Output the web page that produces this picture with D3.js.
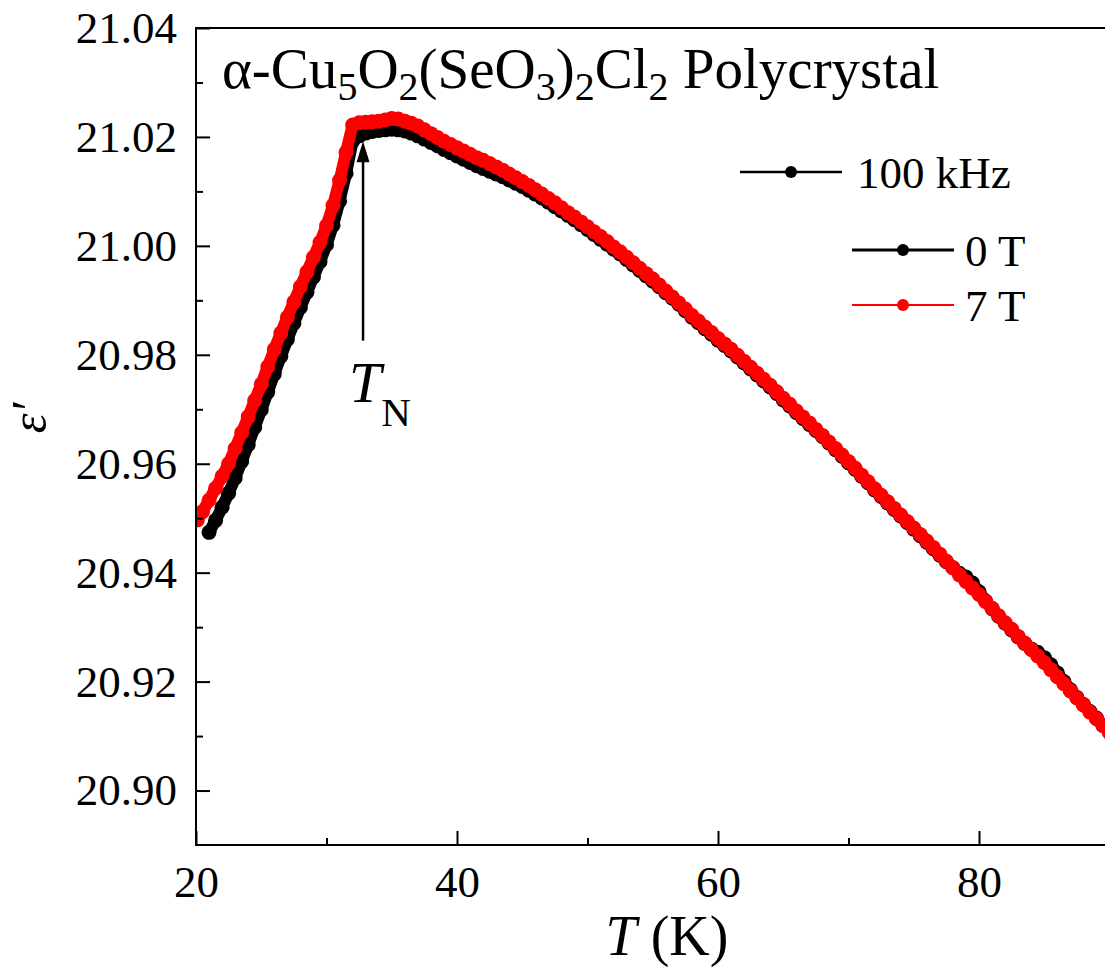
<!DOCTYPE html>
<html>
<head>
<meta charset="utf-8">
<script src="https://cdn.jsdelivr.net/npm/d3@7"></script>
<style>
  body { margin: 0; background: #fff; }
  svg { display: block; }
  .axis path { display: none; }
  .axis line { stroke: #000; stroke-width: 2; }
</style>
</head>
<body>
<svg width="1105" height="971"></svg>
<script>
const width = 1105
const height = 971
const serif = "Liberation Serif, Times New Roman, serif"

// temperature (K) and permittivity for 0 T
const temp0T = [21, 21.5, 22, 22.5, 23, 23.5, 24, 24.5, 25, 25.5, 26, 26.5, 27, 27.5, 28, 28.5, 29, 29.5, 30, 30.5,
  31, 31.5, 32, 32.5, 33, 33.5, 34, 34.5, 35, 35.5, 36, 36.5, 37, 37.5, 38, 38.5, 39, 39.5, 40, 40.5,
  41, 41.5, 42, 42.5, 43, 43.5, 44, 44.5, 45, 45.5, 46, 46.5, 47, 47.5, 48, 48.5, 49, 49.5, 50, 50.5,
  51, 51.5, 52, 52.5, 53, 53.5, 54, 54.5, 55, 55.5, 56, 56.5, 57, 57.5, 58, 58.5, 59, 59.5, 60, 60.5,
  61, 61.5, 62, 62.5, 63, 63.5, 64, 64.5, 65, 65.5, 66, 66.5, 67, 67.5, 68, 68.5, 69, 69.5, 70, 70.5,
  71, 71.5, 72, 72.5, 73, 73.5, 74, 74.5, 75, 75.5, 76, 76.5, 77, 77.5, 78, 78.5, 79, 79.5, 80, 80.5,
  81, 81.5, 82, 82.5, 83, 83.5, 84, 84.5, 85, 85.5, 86, 86.5, 87, 87.5, 88, 88.5, 89, 89.5, 90]
const eps0T = [20.9474, 20.9496, 20.9520, 20.9546, 20.9574, 20.9604, 20.9635, 20.9667, 20.9699, 20.9732,
  20.9765, 20.9797, 20.9828, 20.9858, 20.9887, 20.9915, 20.9943, 20.9971, 21.0002, 21.0038,
  21.0082, 21.0133, 21.0192, 21.0202, 21.0207, 21.0210, 21.0212, 21.0213, 21.0214, 21.0213,
  21.0211, 21.0207, 21.0202, 21.0196, 21.0190, 21.0184, 21.0177, 21.0171, 21.0165, 21.0159,
  21.0153, 21.0147, 21.0142, 21.0137, 21.0132, 21.0127, 21.0121, 21.0115, 21.0109, 21.0102,
  21.0095, 21.0088, 21.0080, 21.0072, 21.0064, 21.0056, 21.0048, 21.0039, 21.0030, 21.0021,
  21.0012, 21.0003, 20.9994, 20.9985, 20.9975, 20.9965, 20.9955, 20.9945, 20.9935, 20.9925,
  20.9914, 20.9904, 20.9893, 20.9881, 20.9869, 20.9859, 20.9848, 20.9838, 20.9827, 20.9817,
  20.9807, 20.9796, 20.9785, 20.9774, 20.9763, 20.9752, 20.9741, 20.9729, 20.9717, 20.9706,
  20.9694, 20.9683, 20.9672, 20.9661, 20.9650, 20.9638, 20.9626, 20.9614, 20.9602, 20.9590,
  20.9577, 20.9565, 20.9552, 20.9540, 20.9528, 20.9516, 20.9504, 20.9492, 20.9480, 20.9468,
  20.9456, 20.9444, 20.9432, 20.9420, 20.9409, 20.9399, 20.9392, 20.9381, 20.9365, 20.9348,
  20.9334, 20.9320, 20.9307, 20.9295, 20.9282, 20.9270, 20.9260, 20.9254, 20.9244, 20.9231,
  20.9216, 20.9200, 20.9185, 20.9171, 20.9158, 20.9145, 20.9133, 20.9120, 20.9107]

// temperature (K) and permittivity for 7 T
const temp7T = [20.1, 20.5, 21, 21.5, 22, 22.5, 23, 23.5, 24, 24.5, 25, 25.5, 26, 26.5, 27, 27.5, 28, 28.5, 29, 29.5, 30, 30.5,
  31, 31.5, 32, 32.5, 33, 33.5, 34, 34.5, 35, 35.5, 36, 36.5, 37, 37.5, 38, 38.5, 39, 39.5, 40, 40.5,
  41, 41.5, 42, 42.5, 43, 43.5, 44, 44.5, 45, 45.5, 46, 46.5, 47, 47.5, 48, 48.5, 49, 49.5, 50, 50.5,
  51, 51.5, 52, 52.5, 53, 53.5, 54, 54.5, 55, 55.5, 56, 56.5, 57, 57.5, 58, 58.5, 59, 59.5, 60, 60.5,
  61, 61.5, 62, 62.5, 63, 63.5, 64, 64.5, 65, 65.5, 66, 66.5, 67, 67.5, 68, 68.5, 69, 69.5, 70, 70.5,
  71, 71.5, 72, 72.5, 73, 73.5, 74, 74.5, 75, 75.5, 76, 76.5, 77, 77.5, 78, 78.5, 79, 79.5, 80, 80.5,
  81, 81.5, 82, 82.5, 83, 83.5, 84, 84.5, 85, 85.5, 86, 86.5, 87, 87.5, 88, 88.5, 89, 89.5, 90]
const eps7T = [20.9497, 20.9512, 20.9533, 20.9555, 20.9577, 20.9600, 20.9628, 20.9657, 20.9686, 20.9716,
  20.9746, 20.9778, 20.9810, 20.9840, 20.9869, 20.9897, 20.9925, 20.9952, 20.9979, 21.0006,
  21.0037, 21.0074, 21.0120, 21.0172, 21.0222, 21.0226, 21.0227, 21.0228, 21.0229, 21.0231,
  21.0234, 21.0233, 21.0229, 21.0225, 21.0220, 21.0213, 21.0206, 21.0199, 21.0192, 21.0186,
  21.0180, 21.0174, 21.0168, 21.0162, 21.0157, 21.0151, 21.0145, 21.0139, 21.0132, 21.0125,
  21.0118, 21.0111, 21.0103, 21.0095, 21.0087, 21.0079, 21.0070, 21.0061, 21.0053, 21.0044,
  21.0035, 21.0026, 21.0017, 21.0008, 20.9998, 20.9989, 20.9979, 20.9969, 20.9959, 20.9949,
  20.9939, 20.9928, 20.9917, 20.9906, 20.9895, 20.9884, 20.9872, 20.9862, 20.9851, 20.9841,
  20.9830, 20.9820, 20.9810, 20.9799, 20.9788, 20.9777, 20.9766, 20.9755, 20.9744, 20.9732,
  20.9720, 20.9709, 20.9697, 20.9686, 20.9675, 20.9663, 20.9652, 20.9640, 20.9628, 20.9616,
  20.9604, 20.9592, 20.9579, 20.9567, 20.9554, 20.9542, 20.9530, 20.9518, 20.9506, 20.9494,
  20.9482, 20.9470, 20.9458, 20.9446, 20.9434, 20.9421, 20.9409, 20.9396, 20.9384, 20.9372,
  20.9360, 20.9347, 20.9334, 20.9321, 20.9308, 20.9296, 20.9283, 20.9271, 20.9259, 20.9247,
  20.9235, 20.9222, 20.9209, 20.9196, 20.9183, 20.9170, 20.9157, 20.9144, 20.9132, 20.9119, 20.9106]

// ticks
const xMajor = [20, 40, 60, 80]
const xMinor = [30, 50, 70]
const yMajor = [20.90, 20.92, 20.94, 20.96, 20.98, 21.00, 21.02, 21.04]
const yMinor = [20.91, 20.93, 20.95, 20.97, 20.99, 21.01, 21.03]

// Neel temperature marker
const TN = 32.8
const arrowEps = [20.9826, 21.0192]

const series = [
  {name: "0 T", color: "#000", T: temp0T, eps: eps0T},
  {name: "7 T", color: "#ff0000", T: temp7T, eps: eps7T}
]

const svg = d3.select("svg")
svg.append("rect").attr("width", width).attr("height", height).attr("fill", "#fff")

// scales
const xScale = d3.scaleLinear().domain([20, 90]).range([196, 1109.5])
const yScale = d3.scaleLinear().domain([20.89, 21.04]).range([845, 28])

// data clipped to plot area
svg.append("clipPath").attr("id", "plot")
  .append("rect")
  .attr("x", xScale(20)).attr("y", yScale(21.04))
  .attr("width", xScale(90) - xScale(20)).attr("height", yScale(20.89) - yScale(21.04))

const line = d3.line().x(d => xScale(d[0])).y(d => yScale(d[1]))
const plot = svg.append("g").attr("clip-path", "url(#plot)")

series.forEach(s => {
  const pts = s.T.map((t, i) => [t, s.eps[i]])
  const g = plot.append("g")
  // dense symbols merge into a thick band
  g.append("path")
    .attr("d", line(pts))
    .attr("fill", "none")
    .attr("stroke", s.color)
    .attr("stroke-width", 12)
    .attr("stroke-linejoin", "round")
    .attr("stroke-linecap", "round")
  g.selectAll("circle")
    .data(pts)
    .enter()
    .append("circle")
    .attr("cx", d => xScale(d[0]))
    .attr("cy", d => yScale(d[1]))
    .attr("r", 7.5)
    .attr("fill", s.color)
})

// axes, ticks point inward
function styleAxis(g) {
  g.attr("font-family", serif).attr("font-size", 45)
  g.selectAll("text").attr("fill", "#000")
}
svg.append("g").attr("class", "axis")
  .attr("transform", `translate(0,${yScale(20.89)})`)
  .call(d3.axisBottom(xScale).tickValues(xMajor).tickSizeInner(-14).tickSizeOuter(0).tickPadding(20))
  .call(styleAxis)
svg.append("g").attr("class", "axis")
  .attr("transform", `translate(0,${yScale(20.89)})`)
  .call(d3.axisBottom(xScale).tickValues(xMinor).tickSizeInner(-7).tickSizeOuter(0).tickFormat(""))
svg.append("g").attr("class", "axis")
  .attr("transform", `translate(${xScale(20)},0)`)
  .call(d3.axisLeft(yScale).tickValues(yMajor).tickSizeInner(-14).tickSizeOuter(0).tickPadding(19).tickFormat(d3.format(".2f")))
  .call(styleAxis)
svg.append("g").attr("class", "axis")
  .attr("transform", `translate(${xScale(20)},0)`)
  .call(d3.axisLeft(yScale).tickValues(yMinor).tickSizeInner(-7).tickSizeOuter(0).tickFormat(""))

// frame
svg.append("rect")
  .attr("x", xScale(20)).attr("y", yScale(21.04))
  .attr("width", xScale(90) - xScale(20)).attr("height", yScale(20.89) - yScale(21.04))
  .attr("fill", "none").attr("stroke", "#000").attr("stroke-width", 2)

// axis titles
const xTitle = svg.append("text")
  .attr("x", 667).attr("y", 955)
  .attr("text-anchor", "middle")
  .attr("font-family", serif)
  .attr("font-size", 56)
xTitle.append("tspan").attr("font-style", "italic").text("T")
xTitle.append("tspan").text(" (K)")

svg.append("text")
  .attr("transform", "translate(46,418) rotate(-90)")
  .attr("text-anchor", "middle")
  .attr("font-family", serif)
  .attr("font-size", 50)
  .attr("font-style", "italic")
  .text("ε′")

// chemical formula title
const title = svg.append("text")
  .attr("x", 222).attr("y", 88)
  .attr("font-family", serif)
  .attr("font-size", 57)
const parts = [["α-Cu", 0], ["5", 1], ["O", 0], ["2", 1], ["(SeO", 0], ["3", 1], [")", 0], ["2", 1], ["Cl", 0], ["2", 1], [" Polycrystal", 0]]
let prevSub = 0
parts.forEach(p => {
  title.append("tspan")
    .attr("dy", (p[1] - prevSub) * 12)
    .attr("font-size", p[1] ? 40 : 57)
    .text(p[0])
  prevSub = p[1]
})

// arrow for T_N
const ax = xScale(TN)
svg.append("line")
  .attr("x1", ax).attr("x2", ax)
  .attr("y1", yScale(arrowEps[0])).attr("y2", yScale(arrowEps[1]) + 18)
  .attr("stroke", "#000").attr("stroke-width", 2.5)
svg.append("path")
  .attr("d", `M${ax},${yScale(arrowEps[1])} L${ax - 6.5},${yScale(arrowEps[1]) + 21} L${ax + 6.5},${yScale(arrowEps[1]) + 21} Z`)
  .attr("fill", "#000")
const tn = svg.append("text")
  .attr("x", ax - 14).attr("y", 402)
  .attr("font-family", serif)
  .attr("font-size", 58)
tn.append("tspan").attr("font-style", "italic").text("T")
tn.append("tspan").attr("font-size", 41).attr("dy", 24).text("N")

// legend
const legendData = [
  {label: "100 kHz", color: "#000", x: 740, y: 172, w: 2.5},
  {label: "0 T", color: "#000", x: 852, y: 250, w: 3},
  {label: "7 T", color: "#ff0000", x: 852, y: 305, w: 2}
]
const legend = svg.append("g")
  .selectAll("g")
  .data(legendData)
  .enter()
  .append("g")
  .attr("transform", d => `translate(${d.x},${d.y})`)
legend.append("line")
  .attr("x1", 0).attr("x2", 102)
  .attr("stroke", d => d.color)
  .attr("stroke-width", d => d.w)
legend.append("circle")
  .attr("cx", 51).attr("r", 6)
  .attr("fill", d => d.color)
legend.append("text")
  .attr("x", d => d.label === "100 kHz" ? 117 : 113)
  .attr("y", 16)
  .attr("font-family", serif)
  .attr("font-size", 45)
  .text(d => d.label)
</script>
</body>
</html>
